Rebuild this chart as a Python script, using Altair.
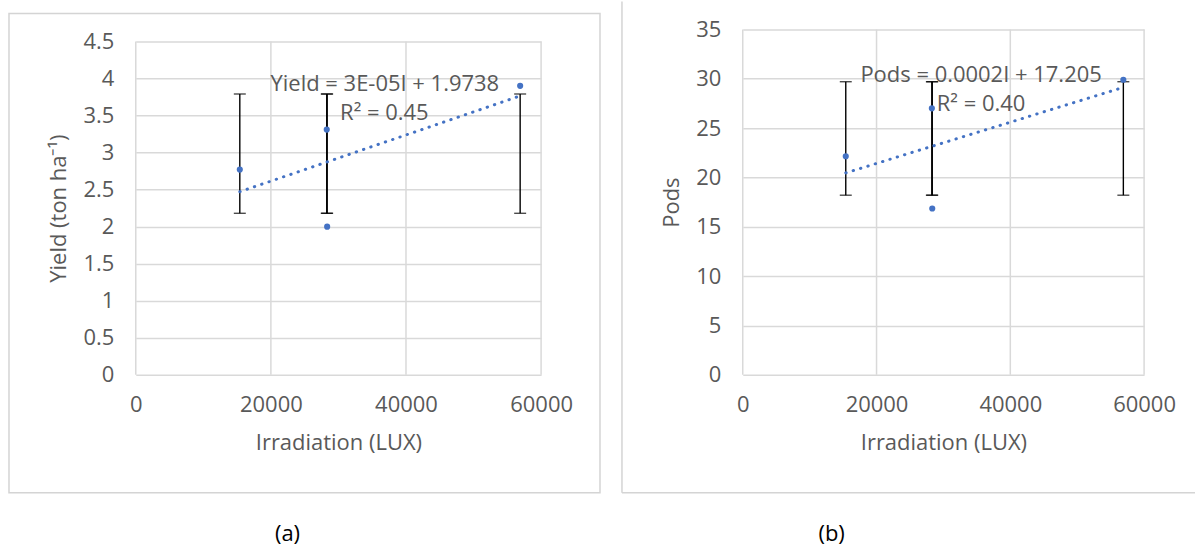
import altair as alt
import pandas as pd

# ---- data ----
irradiation = [15400, 28270, 28330, 56900]
yield_vals = [2.77, 3.31, 2.00, 3.90]
yield_err_lo = [2.18, 2.18, 2.18, 2.18]
yield_err_hi = [3.79, 3.79, 3.79, 3.79]
pods_vals = [22.15, 27.0, 16.85, 29.9]
pods_err_lo = [18.2, 18.2, 18.2, 18.2]
pods_err_hi = [29.7, 29.7, 29.7, 29.7]

x_ticks = [0, 20000, 40000, 60000]
yield_ticks = [0, 0.5, 1, 1.5, 2, 2.5, 3, 3.5, 4, 4.5]
pods_ticks = [0, 5, 10, 15, 20, 25, 30, 35]

yield_eq_text = ["Yield = 3E-05I + 1.9738", "R\u00b2 = 0.45"]
yield_eq_x = [36870, 36800]
yield_eq_y = [3.92, 3.53]
pods_eq_text = ["Pods = 0.0002I + 17.205", "R\u00b2 = 0.40"]
pods_eq_x = [35630, 35630]
pods_eq_y = [30.4, 27.4]

FONT = "Open Sans"
GREY = "#595959"
GRID = "#D9D9D9"
BLUE = "#4472C4"
FS = 22
H = 346


def panel(yvals, lo, hi, yticks, ymax, yrange, ytitle, eq_text, eq_x, eq_y,
          w, frame_layers, title, title_dx, y_title_pad):
    pts = pd.DataFrame({"x": irradiation, "y": yvals})
    err = pd.DataFrame({"x": irradiation, "lo": lo, "hi": hi})
    eq = pd.DataFrame({"x": eq_x, "y": eq_y, "t": eq_text})
    vgrid = pd.DataFrame({"x": x_ticks, "y0": [0] * len(x_ticks),
                          "y1": [ymax] * len(x_ticks)})

    xs = alt.Scale(domain=[0, 60000], nice=False, zero=True)
    ys = alt.Scale(domain=[0, ymax], nice=False, zero=True, range=yrange)
    xaxis = alt.Axis(values=x_ticks, tickCount=len(x_ticks), format="d",
                     title="Irradiation (LUX)",
                     grid=False, domain=False,
                     ticks=False, tickSize=0, labelFont=FONT, labelFontSize=FS,
                     labelColor=GREY, labelPadding=20, labelFlush=False,
                     labelOverlap=False, titleFont=FONT,
                     titleFontSize=FS, titleColor=GREY, titleFontWeight="normal",
                     titlePadding=17)
    yaxis = alt.Axis(values=yticks, tickCount=len(yticks),
                     labelExpr="datum.value + ''", title=ytitle,
                     grid=True, gridColor=GRID, gridWidth=1.5, domain=False,
                     ticks=False, tickSize=0, labelFont=FONT, labelFontSize=FS,
                     labelColor=GREY, labelPadding=22, labelFlush=False,
                     labelOverlap=False, titleFont=FONT,
                     titleFontSize=FS, titleColor=GREY, titleFontWeight="normal",
                     titlePadding=y_title_pad)

    gridlines = alt.Chart(vgrid).mark_rule(color=GRID, strokeWidth=1.5).encode(
        x=alt.X("x:Q", scale=xs, axis=xaxis),
        y=alt.Y("y0:Q", scale=ys, axis=yaxis), y2="y1:Q")
    trend = alt.Chart(pts).transform_regression("x", "y").mark_line(
        color=BLUE, strokeWidth=3, strokeCap="round", strokeDash=[0.4, 7.3]
    ).encode(x=alt.X("x:Q", scale=xs), y=alt.Y("y:Q", scale=ys))
    ebar = alt.Chart(err).mark_rule(color="#000000", strokeWidth=1.4).encode(
        x=alt.X("x:Q", scale=xs), y=alt.Y("lo:Q", scale=ys), y2="hi:Q")
    cap_lo = alt.Chart(err).mark_tick(color="#000000", thickness=1.4, size=12,
                                      orient="horizontal").encode(
        x=alt.X("x:Q", scale=xs), y=alt.Y("lo:Q", scale=ys))
    cap_hi = alt.Chart(err).mark_tick(color="#000000", thickness=1.4, size=12,
                                      orient="horizontal").encode(
        x=alt.X("x:Q", scale=xs), y=alt.Y("hi:Q", scale=ys))
    points = alt.Chart(pts).mark_circle(color=BLUE, size=38, opacity=1).encode(
        x=alt.X("x:Q", scale=xs), y=alt.Y("y:Q", scale=ys))
    eqtext = alt.Chart(eq).mark_text(font=FONT, fontSize=FS, color=GREY,
                                     align="center", baseline="middle").encode(
        x=alt.X("x:Q", scale=xs), y=alt.Y("y:Q", scale=ys), text="t:N")

    layers = [gridlines] + frame_layers + [ebar, cap_lo, cap_hi, trend, points, eqtext]
    return alt.layer(*layers).properties(
        width=w, height=H,
        title=alt.TitleParams(title, orient="bottom", anchor="middle",
                              frame="group", dx=title_dx, offset=31,
                              font=FONT, fontSize=FS, color="#000000",
                              fontWeight="normal"),
    )


one = pd.DataFrame({"k": [0]})
FRAME = "#D4D4D4"

left_frame = [
    alt.Chart(one).mark_rect(fillOpacity=0, stroke=FRAME, strokeWidth=1.5).encode(
        x=alt.value(-127), x2=alt.value(465), y=alt.value(-16), y2=alt.value(464)),
]
right_frame = [
    alt.Chart(one).mark_rule(color=FRAME, strokeWidth=1.5).encode(
        x=alt.value(-121), y=alt.value(-28), y2=alt.value(464)),
    alt.Chart(one).mark_rule(color=FRAME, strokeWidth=1.5).encode(
        x=alt.value(-121), x2=alt.value(453), y=alt.value(464)),
]

left = panel(yield_vals, yield_err_lo, yield_err_hi, yield_ticks, 4.5, [H, 12],
             "Yield (ton ha\u207b\u00b9)", yield_eq_text, yield_eq_x, yield_eq_y,
             406, left_frame, "(a)", -51, 12)
right = panel(pods_vals, pods_err_lo, pods_err_hi, pods_ticks, 35, [H, 0],
              "Pods", pods_eq_text, pods_eq_x, pods_eq_y,
              402, right_frame, "(b)", -112, 12)

chart = alt.hconcat(left, right, spacing=20).properties(
    padding={"left": 8, "top": 0, "right": 0, "bottom": 0},
    background="white",
).configure_view(stroke=None)

chart.save("out.html", embed_options={"renderer": "svg", "actions": False})
